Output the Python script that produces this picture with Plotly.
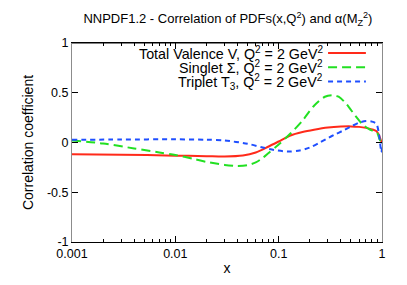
import plotly.graph_objects as go

# Data
x_valence = [0.001, 0.003, 0.01, 0.02, 0.03, 0.045, 0.06, 0.08, 0.1, 0.13, 0.17, 0.22, 0.3, 0.4, 0.5, 0.6, 0.7, 0.8, 0.88, 0.93, 0.97, 1.0]
y_valence = [-0.117, -0.122, -0.132, -0.137, -0.14, -0.13, -0.1, -0.04, 0.01, 0.07, 0.105, 0.128, 0.15, 0.16, 0.162, 0.157, 0.147, 0.132, 0.115, 0.08, 0.03, 0.0]

x_singlet = [0.001, 0.002, 0.004, 0.007, 0.01, 0.015, 0.02, 0.03, 0.04, 0.05, 0.06, 0.07, 0.08, 0.1, 0.13, 0.17, 0.22, 0.28, 0.33, 0.38, 0.45, 0.55, 0.65, 0.75, 0.85, 0.9, 0.95, 1.0]
y_singlet = [0.02, -0.01, -0.06, -0.1, -0.125, -0.165, -0.195, -0.225, -0.235, -0.228, -0.2, -0.155, -0.105, -0.02, 0.09, 0.22, 0.37, 0.46, 0.475, 0.46, 0.39, 0.27, 0.18, 0.135, 0.11, 0.094, 0.03, 0.0]

x_triplet = [0.001, 0.003, 0.01, 0.02, 0.03, 0.05, 0.07, 0.09, 0.11, 0.13, 0.16, 0.2, 0.25, 0.3, 0.35, 0.42, 0.5, 0.6, 0.7, 0.8, 0.88, 0.93, 0.97, 0.99, 1.0]
y_triplet = [0.027, 0.03, 0.032, 0.028, 0.02, -0.013, -0.05, -0.075, -0.087, -0.09, -0.08, -0.05, 0.0, 0.045, 0.08, 0.12, 0.16, 0.2, 0.215, 0.21, 0.19, 0.1, -0.05, -0.1, 0.0]

x_ticks = [0.001, 0.01, 0.1, 1]
x_tick_labels = ["0.001", "0.01", "0.1", "1"]
y_ticks = [-1, -0.5, 0, 0.5, 1]
y_tick_labels = ["-1", "-0.5", "0", "0.5", "1"]

legend_labels = [
    "Total Valence V, Q<sup>2</sup> = 2 GeV<sup>2</sup>",
    "Singlet Σ, Q<sup>2</sup> = 2 GeV<sup>2</sup>",
    "Triplet T<sub>3</sub>, Q<sup>2</sup> = 2 GeV<sup>2</sup>",
]

RED = "#ff2a1a"
GREEN = "#22e022"
BLUE = "#1f4fff"
colors = [RED, GREEN, BLUE]
dashes = ["solid", "9px,5px", "5px,4px"]

FONT = "Liberation Sans, Arial, Helvetica, sans-serif"

fig = go.Figure()
series = [(x_valence, y_valence), (x_singlet, y_singlet), (x_triplet, y_triplet)]
for (xs, ys), c, d, name in zip(series, colors, dashes, legend_labels):
    fig.add_trace(go.Scatter(x=xs, y=ys, mode="lines", name=name,
                             line=dict(color=c, width=2, dash=d, shape="spline", smoothing=0.8),
                             showlegend=False))

# minor ticks
minor_vals = []
for dec in [0.001, 0.01, 0.1]:
    for k in range(2, 10):
        minor_vals.append(dec * k)

fig.update_layout(
    width=407, height=285,
    margin=dict(l=72, r=25, t=43, b=43),
    paper_bgcolor="white", plot_bgcolor="white",
    font=dict(family=FONT, size=12.5, color="black"),
    title=dict(text="NNPDF1.2 - Correlation of PDFs(x,Q<sup>2</sup>) and α(M<sub>Z</sub><sup>2</sup>)",
               x=0.56, xanchor="center", y=0.935, yanchor="middle",
               font=dict(family=FONT, size=13, color="black")),
    xaxis=dict(type="log", range=[-3, 0], tickvals=x_ticks, ticktext=x_tick_labels,
               ticks="inside", ticklen=6, tickcolor="black", showline=True, linecolor="black",
               linewidth=1, mirror="allticks", showgrid=False, zeroline=False,
               minor=dict(tickvals=minor_vals, ticks="inside", ticklen=3, tickcolor="black"),
               title=dict(text="x", standoff=3, font=dict(size=14)),
               tickfont=dict(size=12.5)),
    yaxis=dict(range=[-1, 1], tickvals=y_ticks, ticktext=y_tick_labels,
               ticks="inside", ticklen=6, tickcolor="black", showline=True, linecolor="#8c8c8c",
               linewidth=1, mirror="allticks", showgrid=False, zeroline=False,
               title=dict(text="Correlation coefficient", standoff=10, font=dict(size=14)),
               tickfont=dict(size=12.5)),
)

# top border line black
fig.add_shape(type="line", xref="paper", yref="paper", x0=0, x1=1, y0=1, y1=1,
              line=dict(color="black", width=1))

# legend drawn as text + sample lines (gnuplot style: sample right of text)
legend_y = [0.95, 0.878, 0.806]
for lbl, c, d, yy in zip(legend_labels, colors, dashes, legend_y):
    fig.add_annotation(xref="paper", yref="paper", x=0.817, y=yy, text=lbl,
                       showarrow=False, xanchor="right", yanchor="middle",
                       font=dict(family=FONT, size=14.3, color="black"))
    fig.add_shape(type="line", xref="paper", yref="paper", x0=0.826, x1=0.948, y0=yy, y1=yy,
                  line=dict(color=c, width=2, dash=d))

fig.write_html("out.html", config={"displayModeBar": False},
               post_script="document.body.style.margin='0';")
